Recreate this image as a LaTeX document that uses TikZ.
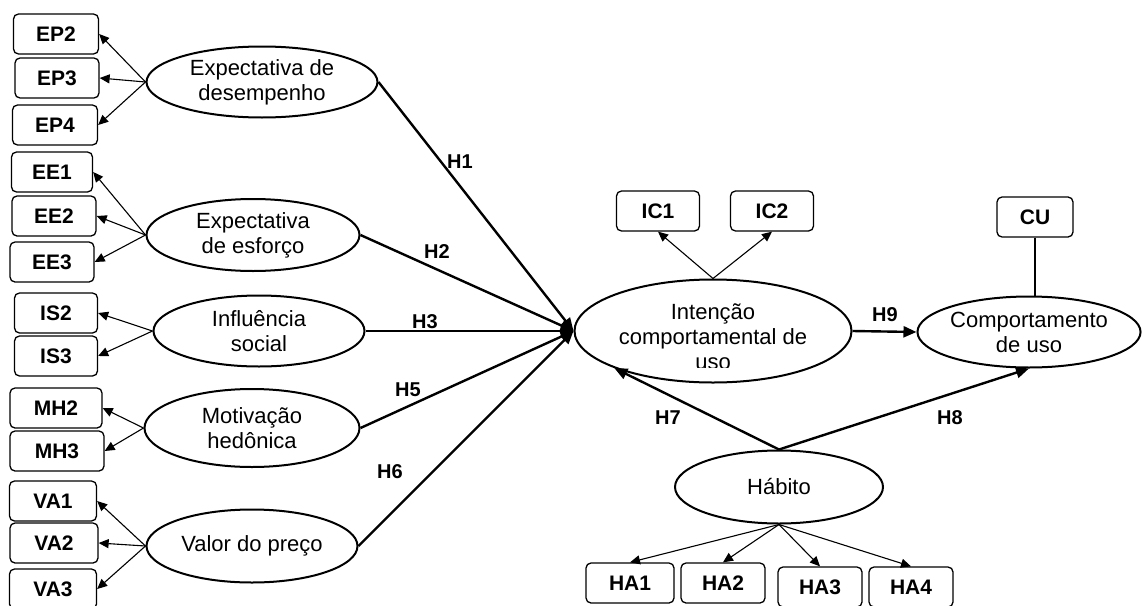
\documentclass[tikz,border=0pt]{standalone}
\usepackage{fontspec}
\setmainfont{Liberation Sans}
\usetikzlibrary{shapes.geometric,arrows.meta}

\tikzset{
    latent/.style={ellipse, draw, line width=2pt, inner sep=0pt, align=center, font=\fontsize{22}{25}\selectfont},
    ind/.style={draw, rounded corners=5pt, line width=1.3pt, minimum height=40pt, inner sep=0pt, font=\bfseries\fontsize{21}{24}\selectfont},
    load/.style={line width=1.1pt, -{Triangle[length=10pt,width=9pt]}},
    hyp/.style={line width=2.4pt, -{Triangle[length=13pt,width=11pt]}},
    hlab/.style={font=\bfseries\fontsize{20}{22}\selectfont}
}

\begin{document}
\begin{tikzpicture}[x=1pt, y=-1pt]
        \useasboundingbox (0,0) rectangle (1142,605);

        \node[latent, minimum width=231pt, minimum height=71pt] (expdes) at (262,82) {Expectativa de\\desempenho};
        \node[latent, minimum width=213pt, minimum height=72pt] (expesf) at (253,235) {Expectativa\\de esforço};
        \node[latent, minimum width=211pt, minimum height=71pt] (influ) at (259,331) {Influência\\social};
        \node[latent, minimum width=215pt, minimum height=78pt] (motiv) at (252,428) {Motivação\\hedônica};
        \node[latent, minimum width=211pt, minimum height=73pt] (valor) at (252,546) {Valor do preço};
        \node[latent, minimum width=277pt, minimum height=103pt] (intenc) at (713,331) {};
        \node[latent, minimum width=222pt, minimum height=71pt] (comport) at (1029,332) {Comportamento\\de uso};
        \node[latent, minimum width=208pt, minimum height=73pt] (habito) at (779,487) {Hábito};

        \begin{scope}
            \clip (575,270) rectangle (852,367);
            \node[align=center, font=\fontsize{22}{25}\selectfont] (intenctxt) at (713,337) {Intenção\\comportamental de\\uso};
        \end{scope}

        \foreach \n/\x/\y/\w in {EP2/56/34/85, EP3/57/78/84, EP4/55/125/85, EE1/52/172/81, EE2/54/216/84, EE3/52/262/84,
                IS2/56/313/83, IS3/56/356/83, MH2/56/408/92, MH3/57/451/94, VA1/53/501/87, VA2/54/543/88, VA3/53/589/87,
                IC1/658/211/83, IC2/772/211/83, CU/1035/217/76, HA1/630/583/88, HA2/723/583/84, HA3/820/587/84, HA4/911/587/84}
            \node[ind, minimum width=\w pt] (\n) at (\x,\y) {\n};

        \foreach \b in {EP2,EP3,EP4}
            \draw[load] (expdes.west) -- (\b.east);
        \foreach \b in {EE1,EE2,EE3}
            \draw[load] (expesf.west) -- (\b.east);
        \foreach \b in {IS2,IS3}
            \draw[load] (influ.west) -- (\b.east);
        \foreach \b in {MH2,MH3}
            \draw[load] (motiv.west) -- (\b.east);
        \foreach \b in {VA1,VA2,VA3}
            \draw[load] (valor.west) -- (\b.east);
        \foreach \b in {IC1,IC2}
            \draw[load] (intenc.north) -- (\b.south);
        \foreach \b in {HA1,HA2,HA3,HA4}
            \draw[load] (habito.south) -- (\b.north);
        \draw[line width=1.1pt] (CU.south) -- (CU.south |- comport.north);

        \foreach \s in {expdes, expesf, influ, motiv, valor}
            \draw[hyp] (\s.east) -- (intenc.west);
        \draw[hyp] (intenc.east) -- (comport.west);
        \draw[hyp] (habito.north) -- (intenc.south west);
        \draw[hyp] (habito.north) -- (comport.south);

        \node[hlab] (h1) at (460,162) {H1};
        \node[hlab] (h2) at (437,252) {H2};
        \node[hlab] (h3) at (425,322) {H3};
        \node[hlab] (h5) at (408,390) {H5};
        \node[hlab] (h6) at (390,472) {H6};
        \node[hlab] (h7) at (668,418) {H7};
        \node[hlab] (h8) at (950,418) {H8};
        \node[hlab] (h9) at (885,315) {H9};
\end{tikzpicture}
\end{document}
